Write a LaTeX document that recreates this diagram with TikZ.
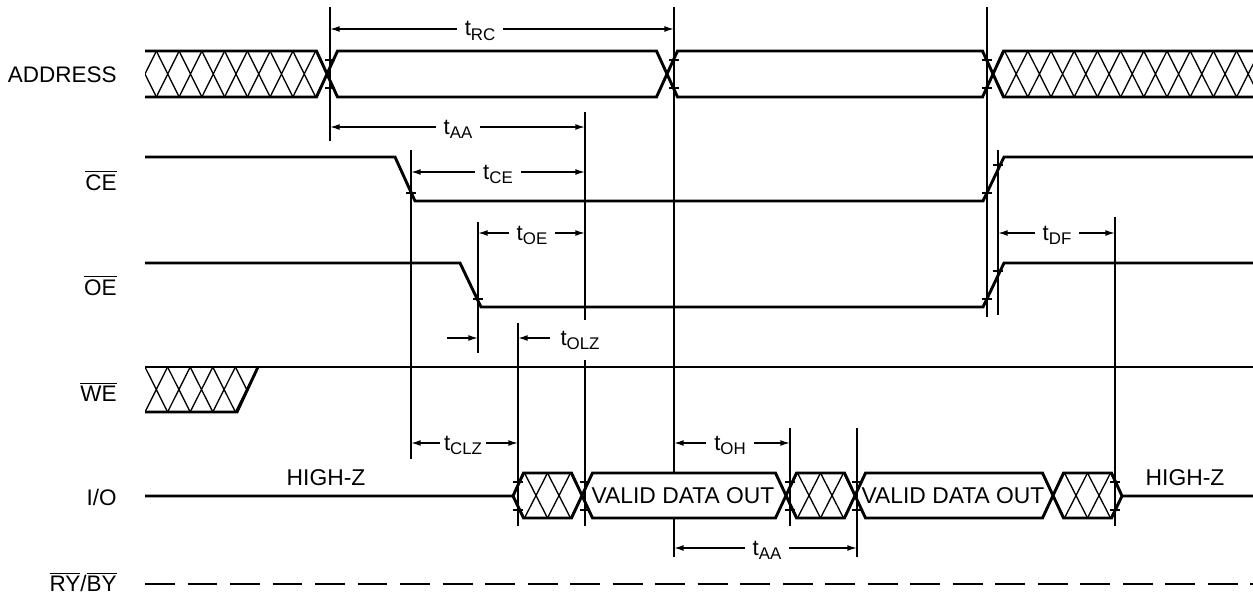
\documentclass[tikz,border=0pt]{standalone}
\usepackage{fontspec}
\setmainfont{Liberation Sans}
\usetikzlibrary{arrows.meta}
\newcommand{\tsub}[1]{t\raisebox{-2.4pt}{\fontsize{9.6}{10}\selectfont #1}}
\newcommand{\ovl}[1]{$\overline{\hbox{#1}}$}
\tikzset{
  sig/.style={line width=1.65pt},
  tim/.style={line width=0.85pt},
  hatchline/.style={line width=0.75pt},
  tickmark/.style={line width=0.85pt},
  dimarrow/.style={line width=0.85pt,{Latex[length=5.5pt,width=3.4pt]}-{Latex[length=5.5pt,width=3.4pt]}},
  onearrow/.style={line width=0.85pt,-{Latex[length=5.5pt,width=3.4pt]}},
  siglabel/.style={font=\fontsize{12.8}{14}\selectfont, anchor=base east, inner sep=0pt},
  txt/.style={font=\fontsize{13}{15}\selectfont, anchor=base, inner sep=0pt},
  tlabel/.style={font=\fontsize{12.6}{14}\selectfont, anchor=base, fill=white, inner xsep=4.5pt, inner ysep=1pt},
}
\begin{document}
\begin{tikzpicture}[x=0.02cm,y=-0.02cm]
\useasboundingbox (0,0) rectangle (1253,598);
\fill[white] (0,0) rectangle (1253,598);

% ---------- vertical timing lines ----------
\draw[tim] (330,7) -- (330,141);
\draw[tim] (674,7) -- (674,473);
\draw[tim] (674,518) -- (674,557);
\draw[tim] (987,7) -- (987,317);
\draw[tim] (585,112) -- (585,526);
\draw[tim] (411,150) -- (411,459);
\draw[tim] (998,150) -- (998,315);
\draw[tim] (478,222) -- (478,353);
\draw[tim] (518,323) -- (518,526);
\draw[tim] (1115,217) -- (1115,526);
\draw[tim] (790,428) -- (790,526);
\draw[tim] (857,428) -- (857,557);

% ---------- ADDRESS ----------
\begin{scope}
  \clip (145,51) -- (316.5,51) -- (327,74) -- (316.5,97) -- (145,97) -- cycle;
  \foreach \k in {0,...,8}
    \draw[hatchline] (145+22.75*\k-11.375,51) -- (145+22.75*\k+11.375,97)
                     (145+22.75*\k-11.375,97) -- (145+22.75*\k+11.375,51);
\end{scope}
\begin{scope}
  \clip (993,74) -- (1003.5,51) -- (1253,51) -- (1253,97) -- (1003.5,97) -- cycle;
  \foreach \k in {0,...,12}
    \draw[hatchline] (993+23.2*\k-11.6,51) -- (993+23.2*\k+11.6,97)
                     (993+23.2*\k-11.6,97) -- (993+23.2*\k+11.6,51);
\end{scope}
\draw[sig] (145,51) -- (316.5,51) -- (337.5,97) -- (656.5,97) -- (677.5,51) -- (982.5,51) -- (1003.5,97) -- (1253,97);
\draw[sig] (145,97) -- (316.5,97) -- (337.5,51) -- (656.5,51) -- (677.5,97) -- (982.5,97) -- (1003.5,51) -- (1253,51);

% ---------- CE ----------
\draw[sig] (145,157) -- (395,157) -- (415,201) -- (983,201) -- (1004,157) -- (1253,157);

% ---------- OE ----------
\draw[sig] (145,263) -- (460,263) -- (481,307) -- (983,307) -- (1004,263) -- (1253,263);

% ---------- WE ----------
\begin{scope}
  \clip (145,367) -- (258,367) -- (237,412) -- (145,412) -- cycle;
  \foreach \k in {0,...,4}
    \draw[hatchline] (145+22.6*\k,367) -- (145+22.6*\k+22.6,412)
                     (145+22.6*\k,412) -- (145+22.6*\k+22.6,367);
\end{scope}
\draw[sig] (145,367) -- (1253,367);
\draw[sig] (145,412) -- (237,412) -- (258,367);

% ---------- I/O ----------
\begin{scope}
  \clip (513,496) -- (523.5,473) -- (571.5,473) -- (582,496) -- (571.5,518) -- (523.5,518) -- cycle;
  \foreach \c in {513,536,559,582}
    \draw[hatchline] (\c-11.5,473) -- (\c+11.5,518) (\c-11.5,518) -- (\c+11.5,473);
\end{scope}
\begin{scope}
  \clip (786,496) -- (796.5,473) -- (844.5,473) -- (855,496) -- (844.5,518) -- (796.5,518) -- cycle;
  \foreach \c in {786,809,832,855}
    \draw[hatchline] (\c-11.5,473) -- (\c+11.5,518) (\c-11.5,518) -- (\c+11.5,473);
\end{scope}
\begin{scope}
  \clip (1053,496) -- (1063.5,473) -- (1111.5,473) -- (1122,496) -- (1111.5,518) -- (1063.5,518) -- cycle;
  \foreach \c in {1053,1076,1099,1122}
    \draw[hatchline] (\c-11.5,473) -- (\c+11.5,518) (\c-11.5,518) -- (\c+11.5,473);
\end{scope}
\draw[sig] (145,496) -- (513,496) -- (523.5,473) -- (571.5,473) -- (592.5,518) -- (775.5,518) -- (796.5,473) -- (844.5,473) -- (865.5,518) -- (1042.5,518) -- (1063.5,473) -- (1111.5,473) -- (1122,496) -- (1253,496);
\draw[sig] (513,496) -- (523.5,518) -- (571.5,518) -- (592.5,473) -- (775.5,473) -- (796.5,518) -- (844.5,518) -- (865.5,473) -- (1042.5,473) -- (1063.5,518) -- (1111.5,518) -- (1122,496);

% ---------- RY/BY ----------
\draw[sig, dash pattern=on 17pt off 7.2pt] (145,584) -- (1253,584);

% ---------- tick marks ----------
\foreach \x/\y in {330/60, 330/88, 674/60, 674/88, 987/60, 987/88,
                   411/193, 987/193, 998/165,
                   478/299, 987/299, 998/271,
                   518/482, 518/510, 585/482, 585/510, 790/482, 790/510,
                   857/482, 857/510, 1115/482, 1115/510}
  \draw[tickmark] (\x-5,\y) -- (\x+5,\y);

% ---------- dimension arrows ----------
\draw[dimarrow] (330,29) -- (674,29);
\draw[dimarrow] (330,127) -- (585,127);
\draw[dimarrow] (411,172) -- (585,172);
\draw[dimarrow] (478,233) -- (585,233);
\draw[dimarrow] (998,233) -- (1115,233);
\draw[onearrow] (447,338) -- (478,338);
\draw[onearrow] (550,338) -- (518,338);
\draw[dimarrow] (411,443) -- (518,443);
\draw[dimarrow] (674,443) -- (790,443);
\draw[dimarrow] (674,548) -- (857,548);

\node[tlabel] (lrc) at (480,36) {\tsub{RC}};
\node[tlabel] (laa1) at (458,134) {\tsub{AA}};
\node[tlabel] (lce) at (498,179) {\tsub{CE}};
\node[tlabel] (loe) at (532,240) {\tsub{OE}};
\node[tlabel] (ldf) at (1057,240) {\tsub{DF}};
\node[tlabel, inner xsep=2pt, inner ysep=6pt] (lolz) at (580,345) {\tsub{OLZ}};
\node[tlabel, inner xsep=2pt] (lclz) at (463,450) {\tsub{CLZ}};
\node[tlabel] (loh) at (730,450) {\tsub{OH}};
\node[tlabel] (laa2) at (767,555) {\tsub{AA}};

% ---------- signal names ----------
\node[siglabel] (naddr) at (117,83) {ADDRESS};
\node[siglabel] (nce) at (117,190) {\ovl{CE}};
\node[siglabel] (noe) at (117,295) {\ovl{OE}};
\node[siglabel] (nwe) at (117,401) {\ovl{WE}};
\node[siglabel] (nio) at (117,505) {I/O};
\node[siglabel] (nry) at (117,591) {\ovl{RY}/\ovl{BY}};

% ---------- bus texts ----------
\node[txt] (hz1) at (326,485) {HIGH-Z};
\node[txt] (hz2) at (1185,485) {HIGH-Z};
\node[txt] (vd1) at (683,503) {VALID DATA OUT};
\node[txt] (vd2) at (953,503) {VALID DATA OUT};
\end{tikzpicture}
\end{document}
